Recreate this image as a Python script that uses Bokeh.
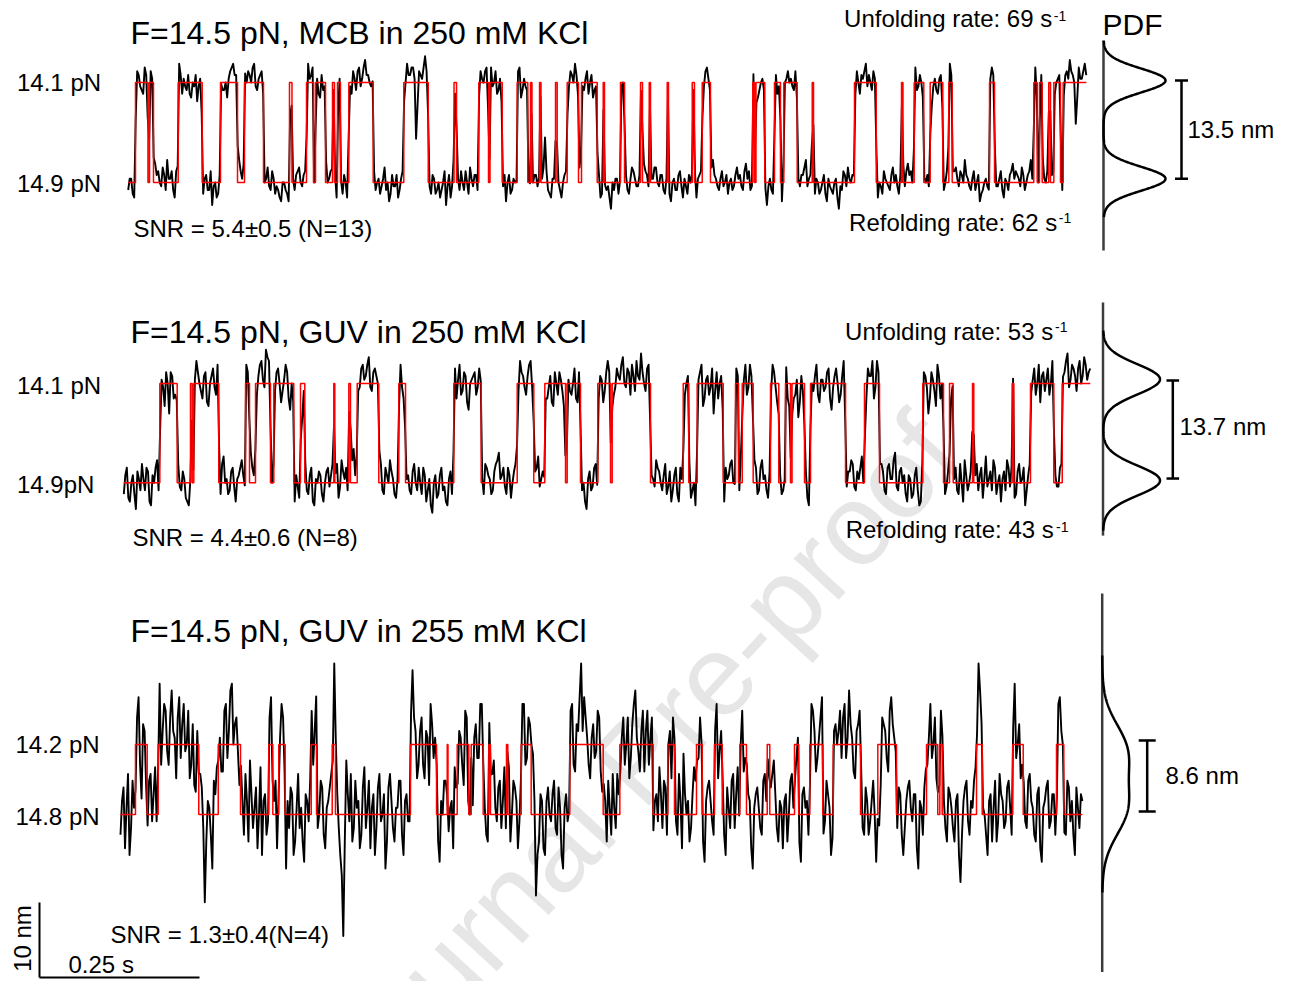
import numpy as np
from bokeh.plotting import figure
from bokeh.models import Range1d, Label
from bokeh.embed import file_html
from bokeh.resources import INLINE

# ---------------- data ----------------
# red step fits: times (ms from trace start) at which the state toggles (start folded)
top_trans_ms = [11.4, 30.9, 33.3, 39.5, 78.1, 115.6, 144.2, 170.8, 181.7, 211.4, 252.0, 255.9,
                278.6, 289.5, 292.7, 308.3, 319.2, 322.3, 327.0, 331.7, 344.7, 382.8, 430.6, 468.8,
                509.1, 513.0, 547.8, 563.0, 565.3, 584.4, 607.8, 624.4, 628.6, 630.9, 642.7, 645.0,
                667.7, 670.3, 685.9, 703.6, 708.3, 732.8, 742.2, 744.2, 769.2, 775.5, 800.5, 803.6,
                814.1, 816.1, 842.2, 844.2, 881.3, 884.8, 896.9, 909.8, 975.9, 978.6, 980.9, 994.7,
                1009.8, 1019.2, 1024.4, 1045.3, 1068.8, 1070.8, 1134.8, 1168.8, 1208.3, 1210.6,
                1228.1, 1243.1, 1253.1, 1272.8, 1282.2, 1287.5, 1345.8, 1353.6, 1415.0, 1420.3,
                1423.9, 1428.1, 1438.4, 1441.1, 1446.3, 1456.7, 1460.9]
mid_trans_ms = [56.3, 83.4, 104.2, 106.9, 109.4, 148.4, 190.2, 196.4, 205.8, 229.2, 234.4, 265.6,
                276.1, 282.8, 328.1, 329.7, 351.6, 354.2, 364.7, 398.4, 429.7, 440.2, 515.6, 558.4,
                614.7, 640.6, 657.8, 690.2, 692.8, 713.6, 740.6, 760.5, 763.1, 823.0, 874.1, 882.8,
                895.9, 936.6, 955.8, 960.5, 966.3, 983.4, 1010.5, 1023.4, 1033.9, 1041.7, 1044.1,
                1063.6, 1073.0, 1127.7, 1157.3, 1180.8, 1248.4, 1280.8, 1290.2, 1295.9, 1326.1,
                1328.1, 1388.1, 1390.6, 1416.7, 1453.1, 1466.3]
bot_trans_ms = [23.4, 41.7, 58.9, 122.3, 152.7, 187.5, 231.7, 238.0, 247.3, 257.3, 298.0, 306.3,
                330.8, 335.9, 453.1, 493.8, 510.5, 511.7, 526.1, 544.2, 548.0, 566.7, 575.5, 578.1,
                603.1, 605.2, 626.1, 641.7, 702.0, 754.2, 780.2, 832.3, 855.2, 865.6, 900.0, 908.9,
                928.1, 940.2, 967.7, 978.1, 1010.5, 1014.5, 1053.1, 1059.8, 1077.0, 1097.3, 1113.6,
                1156.3, 1183.3, 1212.5, 1259.4, 1277.0, 1280.2, 1283.9, 1337.5, 1346.4, 1394.2,
                1410.5, 1462.5, 1473.9]
top_dur_ms, mid_dur_ms, bot_dur_ms = 1497.0, 1510.0, 1503.0
top_step_nm, mid_step_nm, bot_step_nm = 13.33, 13.24, 9.33

# black traces: residual around the fitted level
# (two interleaved sample sets per trace: a = even samples, b = odd samples)
top_noise_a = [-2, 1, -4, 3, -1, -3, 2, 4, 1, 5, 3, -1, 2, 6, 1, -2, 3, 5, -3, -1,
               2, -4, -1, -5, 1, -3, 2, -2, -6, 0, -3, 1, -2, -4, 3, 5, 2, 6, 1, 4,
               3, 0, 5, -2, 2, 4, 1, -1, 3, -3, -2, -5, 0, -3, -7, 1, 2, 4, -1, 3,
               5, 2, -2, 1, -4, -2, 3, 1, -3, 0, -5, -2, 2, -4, -1, 3, -2, 4, 1, 6,
               2, -1, 3, 0, -3, 1, -2, -5, 2, -1, -4, 1, 3, 5, 2, 4, -15, 3, 1, 7,
               2, -3, 1, -2, -4, 0, -6, 2, -1, -3, 1, 3, -2, 0, 4, -1, 2, 5, 1, 3,
               -2, 4, 0, -3, 1, -1, -5, 2, -2, 0, 3, -4, 1, -2, -5, 0, 2, -3, 1, 12,
               -2, -4, 1, -6, -2, 0, 3, -1, 2, 5, 1, 4, -2, 3, 0, -4, -1, 2, -3, -5,
               -1, -7, -2, 1, -4, 0, 2, -3, 4, 1, -1, 3, 5, 2, -2, 1, 4, -1, 2, -3,
               0, -5, 1, -2, 3, -4, -1, 2, -6, -2, 1, 3, -1, 4, 2, 6, 1, -2, 3, 0,
               -3, 1, -1, 4, 2, -2, 5, 3, -1, 2, -4, 0, -2, -6, 1, -3, 2, -1, -5, 0,
               3, 1, -2, 4, -1, 2, 6, 1, 3, -3, 0, -2, 2, -5, -1, -3, 1, -7, -2, 2,
               4, 0, -1, 3, -3, 1, 5, 2, -2, 1, -4, -1, 3, 0, -2, 4, 2, -3, 1, -1,
               5, 3, 1, -2, 2, -4, 0, -1, -6, 1, -3, 2, -2, 3, 5, 1, 4, -1, 2, 6,
               1, -2, 3, 0, -5, -2, 1, -3, 4, 2, -1, 3, -4, 0, 2, 5, 3, 1, 4, -2,
               2, 6, 1, 3, -2, 4, 0, 5, 2, -3, 1, 4, -1, 3, 6, 2, -11, 4, 1, 5]
top_noise_b = [1, -3, 0, 2, -2, 4, -1, 3, -3, 2, 0, 4, -2, 1, 3, -4, 0, 2, 1, -2,
               -3, 0, 2, -1, -4, 1, -2, 3, -1, -4, 2, -2, 0, 1, 4, 2, -1, 3, 5, 0,
               2, 4, -1, 1, 3, 0, 4, -2, 1, -1, -4, 0, -2, -5, 1, -2, 3, 0, 2, -3,
               1, 4, 0, -3, 2, -1, 0, 3, -2, -4, 1, -3, 0, 2, -3, 1, 3, -1, 4, 2,
               0, 3, -2, 1, -1, 4, 0, -3, -1, 2, -2, 3, 0, 2, 4, 1, -6, 2, 4, 3,
               -1, 2, -3, 0, -2, 3, -1, -4, 1, 2, -2, 0, 3, -3, 1, 2, -2, 3, 0, 4,
               1, -1, 3, -2, -4, 2, 0, -3, 1, -1, 4, -2, -1, 0, -3, 2, -1, 1, 4, 3,
               -3, 1, -2, 0, -4, 2, -1, 3, 0, 2, 4, -1, 1, -3, 2, -2, 0, -4, 1, -2,
               -4, 0, 1, -3, -1, 2, -2, 1, 3, -1, 2, 0, 3, -1, 1, 4, 0, 2, -2, 1,
               -3, 0, -2, 2, -1, 1, -3, 0, -2, -4, 2, 0, 3, 1, 4, 2, -1, 1, -1, 2,
               0, -2, 2, 1, -1, 3, 1, -2, 4, 0, -2, 1, -4, -1, -2, 0, -3, 2, -2, 1,
               0, -1, 3, 1, 2, 4, -1, 2, 0, 1, -3, 0, -3, 1, -2, 0, -4, -1, 3, -1,
               1, 2, -3, 0, 2, 3, -1, 0, 3, -2, 0, -3, 1, -1, 2, 0, -1, 2, -2, 3,
               2, 0, 4, -1, 0, -2, 2, -3, -1, -2, 1, -1, 0, 4, 2, 3, 1, 3, 0, 2,
               -1, 1, -2, 2, -3, 0, -1, 1, 2, -1, 1, -2, 1, -2, 3, 1, 2, -1, 2, 0,
               3, 1, 4, 0, 2, 1, 3, 2, -1, 0, 2, -2, 2, 1, 3, 0, -4, 1, 3, 2]
mid_noise_a = [-3, 4, -5, 2, -7, 1, 5, -2, 3, -6, 0, 6, -4, -1, 3, -8, 2, -3, 5, -2,
               1, -5, -10, -2, 6, 0, -4, 3, -6, 2, -1, 5, -3, 7, 1, -2, 4, -5, 2, 6,
               -1, 3, 8, 2, -3, 5, 1, 9, 6, 0, -2, 4, -5, 1, 3, -7, -2, 2, -4, -9,
               1, -3, 4, -6, 0, 2, -5, 3, -1, 5, 2, -4, 6, 1, -2, 4, 9, 3, -1, 5,
               2, 7, -2, 4, 0, 5, -3, 2, 6, 1, -4, 3, -1, -6, 2, -3, 5, -2, 0, 4,
               -5, 1, -8, 2, -3, 4, -1, -6, 3, 0, -4, 5, -2, 2, -7, 1, 3, -1, 6, -3,
               4, 1, -2, 5, 8, 2, -1, 4, -4, 3, 0, 6, 2, -3, 5, -1, 3, 7, 1, -2,
               -4, 2, -6, 0, 3, -2, -8, 1, -3, 4, -5, 2, 0, -7, 3, -1, 5, -4, 1, -2,
               6, 2, -3, 4, 1, 7, -1, 3, 5, -2, 2, 8, 0, 4, -4, 1, 6, 3, -2, 5,
               -1, -5, 2, -3, 4, -7, 0, 3, -2, -6, 1, 5, -4, 2, -1, -8, 3, 0, -3, 4,
               2, 6, -1, 3, 7, 1, -3, 5, 0, 4, -2, 6, 2, -4, 1, 3, -5, 2, -2, 5,
               -6, 1, -3, -9, 2, 0, -4, 3, -2, 5, -5, 1, -1, 4, -7, 2, 0, -3, 6, -1,
               3, 5, -2, 1, 7, -8, 4, 2, -4, 6, 0, 3, -3, 5, 1, 8, -2, 4, 2, -5,
               1, -3, 4, -6, 0, 2, -8, 3, -2, 5, -4, 1, -1, -6, 2, 4, -3, 0, 6, -2,
               3, -1, 5, 2, -4, 7, 1, -2, 4, 0, -5, 3, 6, -1, 2, -3, 5, 1, -6, 2,
               -2, 4, 0, -5, 3, 1, -3, 6, 2, -1, 5, 3, 8, 1, 4, -2, 6, 2, 5, 3]
mid_noise_b = [2, -4, 0, -3, 3, -2, 1, 4, -5, 2, 4, -2, 1, -6, 0, 3, -4, 1, -1, 3,
               -4, -6, -3, 1, 3, -2, 2, -5, 0, 4, -3, 2, 5, 0, -3, 3, -1, 1, 4, 2,
               5, 1, 4, -2, 2, 6, -1, 7, 2, -3, 3, 0, -2, 5, -4, 0, -5, -1, -6, -2,
               -2, 2, -5, 1, 3, -3, 0, 4, 2, -2, 5, -1, 3, 4, 0, 6, 2, -2, 4, 1,
               5, -1, 3, 2, 6, -2, 4, 0, 3, -3, 1, 5, -4, 1, -2, 3, 0, 4, -3, 2,
               -2, -6, 0, -4, 2, -2, -5, 1, -3, 4, 1, -3, 3, -5, 0, 2, -3, 4, 1, 5,
               2, -3, 3, 6, 1, 4, -3, 2, 0, 5, -2, 3, -1, 2, 6, 1, 4, -1, 3, -4,
               -1, -5, 3, -3, 1, -6, 2, -2, 0, -4, 3, -2, -5, 1, -2, 4, -3, 2, -5, 3,
               3, 5, -1, 2, 5, 0, 4, -3, 2, 6, 1, 3, -2, 5, 2, -1, 4, 0, 2, -3,
               3, -2, 4, -5, 1, -3, 2, -4, 0, -2, 3, -6, 1, -3, 4, -2, -4, 2, -5, 1,
               5, 0, 4, -2, 3, 5, -1, 2, 6, -3, 4, 1, -2, 3, 5, -1, 3, -3, 1, -4,
               -2, -4, 1, -5, -2, 3, -6, 0, 2, -3, 1, -2, 3, -4, -1, 4, -5, 2, -2, 3,
               6, -1, 3, 4, 0, -4, 2, 6, -1, 3, 5, -2, 4, 1, 6, -1, 3, 0, -3, 2,
               -4, 2, -2, -5, 3, -1, -4, 1, -6, 2, 0, -3, 3, -4, 1, -2, 5, -5, 2, 0,
               5, 2, -2, 4, 1, -1, 3, 6, -3, 2, 1, -2, 4, 2, -4, 3, 0, 4, -2, 5,
               1, -3, 5, 2, -2, 4, 0, 3, -1, 4, 2, 6, -1, 5, 2, 4, 0, 7, 1, 4]
bot_noise_a = [-3, 4, 1, -6, 5, -2, 7, -8, 2, -4, 6, 3, -1, 9, 2, 5, -3, 8, 1, 4,
               -2, 6, 0, -5, 3, -7, 1, 4, -13, 2, -3, 5, 7, 1, -4, 6, 2, 9, 3, -1,
               5, -3, 2, 8, -2, 4, 0, -6, 3, -1, 7, 2, -5, 1, 4, -8, -2, 3, -4, 6,
               1, -7, 2, 5, -3, 10, 0, 4, -5, 2, 6, 12, 3, -6, -18, 8, -1, -4, 5, 2,
               -3, 7, 1, -5, 3, -2, 6, 0, -8, 4, 2, -4, 1, 5, -6, 3, -1, 11, 2, -3,
               4, -5, 1, 6, -2, 3, -7, 0, 5, -3, 2, 7, -4, 1, -6, 4, 0, -9, 3, -2,
               6, 1, -4, 3, 8, -1, 5, 2, -3, 7, 0, 4, -5, 2, 6, -2, 3, 9, -12, -4,
               2, -6, 4, -1, 5, -3, 1, -8, 3, 0, 6, -4, 2, 12, 7, 1, -5, 3, -1, 4,
               -7, 2, 5, -3, 1, 6, -2, 4, 0, -5, 3, 8, -1, 2, -4, 5, 1, -6, 3, 7,
               -2, 4, 1, -5, 6, -3, 2, 9, 0, -4, 3, 5, -2, 1, -7, 4, 2, -3, 6, -1,
               3, -6, 1, 5, -2, 7, 0, -4, 4, 2, -8, 3, 1, -3, 6, -1, 4, 8, -2, 2,
               -5, 3, 0, 6, -3, 1, -7, 4, 2, -2, 5, -4, 1, 7, -1, 3, -6, 2, 0, 5,
               4, -2, 8, 1, -5, 3, 6, -3, 2, -1, 5, -7, -12, 4, 2, -4, 7, 1, -2, 3,
               -6, 2, 5, -1, 3, -8, 1, 4, -3, 6, 0, -5, 2, 8, -2, 4, 1, -4, 3, -10,
               2, 5, -3, 1, 7, 12, 4, 0, -6, 3, 1, -4, 6, 2, -1, 5, -3, 9, 0, -5,
               3, -2, 6, 1, -4, 4, -7, 2, 5, -1, 3, -5, 7, 0, -3, 4, 2, -6, 1, 3]
bot_noise_b = [2, -5, 6, -2, 1, 4, -3, 3, -6, 5, -1, 7, 2, -3, 6, -1, 4, 2, -5, 7,
               3, -1, 5, -3, -6, 2, 6, -2, -4, 1, -8, 3, 2, -4, 5, -2, 8, 0, 4, -6,
               2, 6, -4, 3, 1, -5, 7, 2, -3, 4, -2, 5, -1, 6, -3, 2, 4, -6, 1, -2,
               -4, 3, -1, 7, 2, -2, 5, -3, 1, 4, -1, 8, -2, -9, -4, 3, 6, -2, 1, -5,
               4, -2, 5, 1, -6, 4, -1, 3, -4, 6, -2, 1, 5, -3, 2, -1, 6, 4, -5, 2,
               -3, 2, -6, 3, 1, -4, 2, 5, -2, 1, -5, 4, 2, -3, 5, -7, 3, 1, -2, 6,
               3, -3, 5, 6, 1, 4, -2, 7, 1, -4, 5, 2, -1, 6, -3, 4, 7, 2, -6, 3,
               -5, 2, 0, 3, -2, 4, -6, 1, -1, 5, -3, 3, 7, 2, 4, -3, 1, -2, 5, -4,
               3, -4, 1, 6, -2, 3, 1, -3, 4, -2, 6, 1, -4, 5, 2, -3, 4, 2, -1, 3,
               5, -3, 2, 4, -1, 6, -5, 3, 2, -2, 7, -1, 4, -4, 2, 5, -1, 3, -5, 2,
               -3, 4, -2, 6, 3, -1, 5, -2, 3, -5, 1, 4, -2, 5, 2, -3, 6, 3, -4, 1,
               2, -4, 5, 1, -2, -5, 3, 1, -3, 6, 2, -2, 4, -3, 5, 1, -4, 3, 2, -2,
               6, 1, 3, -4, 2, 5, -2, 4, -3, 2, 0, -5, -6, 3, -2, 5, 3, -1, 4, -3,
               -2, 4, 1, 3, -5, 2, -3, 6, 1, -2, 4, -1, 5, 2, -4, 3, -2, 2, -6, -3,
               4, -1, 2, 5, 3, 8, 1, -3, 2, -4, 5, -1, 3, -2, 4, 1, 5, -2, 3, -3,
               -1, 5, 2, -3, 3, -5, 1, 4, -2, 3, -3, 6, 2, -4, 5, -1, -3, 4, -2, 2]
top_noise_unit_nm, mid_noise_unit_nm, bot_noise_unit_nm = 0.5, 0.5, 0.9

# PDF (Gaussian fits): peak centres relative to folded level (nm), widths (nm)
pdf_top_means_nm, pdf_top_sigma_nm = [0.5, 13.6], 1.6
pdf_mid_means_nm, pdf_mid_sigma_nm = [0.3, 13.8], 2.0
pdf_bot_means_nm, pdf_bot_sigma_nm = [0.8, 8.5], 3.6
# step-size bars (nm, relative to folded level)
bar_top_nm = [0.5, 13.6]
bar_mid_nm = [0.57, 13.64]
bar_bot_nm = [0.4, 9.87]
# scale bar
scale_nm, scale_s = 10.0, 0.25

# ---------------- layout ----------------
PX_PER_S = 640.0
PX_PER_NM = 7.5
W, H = 1275, 981
FONT = "Liberation Sans"


def X(px):
    return px / PX_PER_S


def Y(py):
    return (H - py) / PX_PER_NM


p = figure(width=W, height=H, x_range=Range1d(0, W / PX_PER_S), y_range=Range1d(0, H / PX_PER_NM),
           output_backend="svg", toolbar_location=None, x_axis_type=None, y_axis_type=None,
           min_border=0, outline_line_color=None)
p.background_fill_color = "white"
p.border_fill_color = "white"
p.grid.visible = False

# watermark
p.add_layout(Label(x=X(336), y=Y(1086), text="Journal Pre-proof", angle=47.4, angle_units="deg",
                   text_font=FONT, text_font_size="115px", text_color="#e6e6e6",
                   text_baseline="middle", text_align="left", level="underlay"))


def fitted_level(trans, dur, step, n):
    t = np.linspace(0, dur, n)
    dt = dur / (n - 1)
    edges = np.array([0.0] + list(trans) + [dur])
    states = np.arange(len(edges) - 1) % 2
    cum = np.concatenate([[0.0], np.cumsum(np.diff(edges) * states)])
    a = np.clip(t - dt / 2, 0, dur)
    b = np.clip(t + dt / 2, 0, dur)
    frac = (np.interp(b, edges, cum) - np.interp(a, edges, cum)) / (b - a)
    return t, frac * step


def interleave(a, b):
    n = min(len(a), len(b))
    return np.column_stack([np.array(a[:n], float), np.array(b[:n], float)]).ravel()


panels = [
    dict(trans=top_trans_ms, dur=top_dur_ms, step=top_step_nm, noise=interleave(top_noise_a, top_noise_b),
         unit=top_noise_unit_nm, x0=127.7, base=182.0, means=pdf_top_means_nm, sigma=pdf_top_sigma_nm,
         amp=62, axis_px=1103.0, axis_lim=(-9.07, 18.93), pdf_lim=(-4.6, 18.9), bar_px=1181.0,
         bar=bar_top_nm, cap=6.5),
    dict(trans=mid_trans_ms, dur=mid_dur_ms, step=mid_step_nm, noise=interleave(mid_noise_a, mid_noise_b),
         unit=mid_noise_unit_nm, x0=123.3, base=482.3, means=pdf_mid_means_nm, sigma=pdf_mid_sigma_nm,
         amp=57, axis_px=1102.5, axis_lim=(-7.04, 24.04), pdf_lim=(-6.4, 20.3), bar_px=1172.3,
         bar=bar_mid_nm, cap=6.3),
    dict(trans=bot_trans_ms, dur=bot_dur_ms, step=bot_step_nm, noise=interleave(bot_noise_a, bot_noise_b),
         unit=bot_noise_unit_nm, x0=120.0, base=814.0, means=pdf_bot_means_nm, sigma=pdf_bot_sigma_nm,
         amp=27, axis_px=1101.7, axis_lim=(-21.0, 29.47), pdf_lim=(-10.4, 21.2), bar_px=1146.7,
         bar=bar_bot_nm, cap=8.5),
]

for pn in panels:
    xs0 = X(pn["x0"])
    yb = Y(pn["base"])
    # noisy trace
    t, lev = fitted_level(pn["trans"], pn["dur"], pn["step"], len(pn["noise"]))
    ys = yb + lev + pn["noise"] * pn["unit"]
    p.line(xs0 + t / 1000.0, ys, line_color="black", line_width=1.9, line_join="round")
    # red step fit
    tx = np.array([0.0] + pn["trans"] + [pn["dur"]]) / 1000.0
    st = [i % 2 for i in range(len(pn["trans"]) + 1)] + [len(pn["trans"]) % 2]
    p.step(xs0 + tx, yb + np.array(st) * pn["step"], mode="after", line_color="#ff0000", line_width=1.5)
    # PDF axis
    ax = X(pn["axis_px"])
    p.segment(x0=[ax], y0=[yb + pn["axis_lim"][0]], x1=[ax], y1=[yb + pn["axis_lim"][1]],
              line_color="#3c3c3c", line_width=2.5)
    # PDF curve
    yy = np.linspace(pn["pdf_lim"][0], pn["pdf_lim"][1], 400)
    dens = sum(np.exp(-0.5 * ((yy - m) / pn["sigma"]) ** 2) for m in pn["means"])
    dens = dens / dens.max()
    p.line(ax + dens * pn["amp"] / PX_PER_S, yb + yy, line_color="black", line_width=2.5)
    # step-size bar
    bx = X(pn["bar_px"])
    c = pn["cap"] / PX_PER_S
    lo, hi = pn["bar"]
    p.segment(x0=[bx, bx - c, bx - c], y0=[yb + lo, yb + lo, yb + hi],
              x1=[bx, bx + c, bx + c], y1=[yb + hi, yb + lo, yb + hi],
              line_color="black", line_width=2.5)

# scale bar
sx0, sy0 = X(39), Y(977)
p.segment(x0=[sx0, sx0], y0=[sy0, sy0], x1=[sx0, sx0 + scale_s], y1=[sy0 + scale_nm, sy0],
          line_color="black", line_width=2)


def lab(text, px, py, size, align="left", angle=0.0):
    p.add_layout(Label(x=X(px), y=Y(py), text=text, text_font=FONT, text_font_size=f"{size}px",
                       text_color="black", text_baseline="middle", text_align=align,
                       angle=angle, angle_units="deg"))


lab("F=14.5 pN, MCB in 250 mM KCl", 130, 32.5, 32)
lab("F=14.5 pN, GUV in 250 mM KCl", 130, 331.7, 32)
lab("F=14.5 pN, GUV in 255 mM KCl", 130, 630, 32)
lab("14.1 pN", 16.5, 81.7, 24)
lab("14.9 pN", 16.5, 182.5, 24)
lab("14.1 pN", 16.5, 384.5, 24)
lab("14.9pN", 16.5, 484, 24)
lab("14.2 pN", 15, 744, 24)
lab("14.8 pN", 15, 816, 24)
lab("SNR = 5.4\u00b10.5 (N=13)", 133, 227.5, 24)
lab("SNR = 4.4\u00b10.6 (N=8)", 132, 536.7, 24)
lab("SNR = 1.3\u00b10.4(N=4)", 110, 934, 24)
lab("Unfolding rate: 69 s", 1051.7, 18.3, 24, "right")
lab("-1", 1053.3, 15.5, 14)
lab("Refolding rate: 62 s", 1056.7, 221.7, 24, "right")
lab("-1", 1058.3, 217.5, 14)
lab("Unfolding rate: 53 s", 1052.7, 330.8, 24, "right")
lab("-1", 1054.5, 326.5, 14)
lab("Refolding rate: 43 s", 1053.3, 529.3, 24, "right")
lab("-1", 1055.5, 526, 14)
lab("PDF", 1102, 23.7, 30)
lab("13.5 nm", 1187, 129, 24)
lab("13.7 nm", 1179, 425.8, 24)
lab("8.6 nm", 1165, 774.7, 24)
lab("0.25 s", 68, 964, 24)
lab("10 nm", 22, 938, 24, "center", 90)

open("out.html", "w").write(file_html(p, INLINE))
